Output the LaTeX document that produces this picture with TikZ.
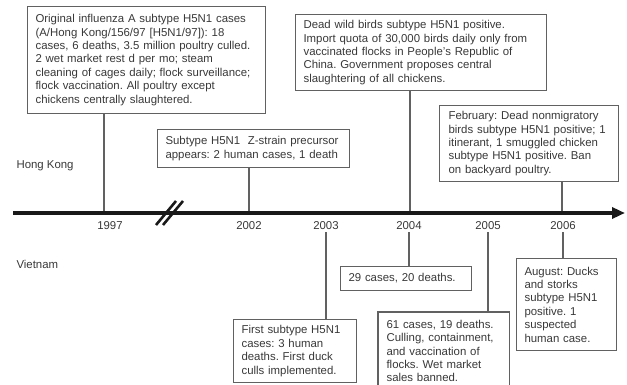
\documentclass[tikz,border=0pt]{standalone}
\usepackage{fontspec}
\setmainfont{Liberation Sans}
\usetikzlibrary{arrows.meta}
\frenchspacing

\tikzset{
	txt/.style={text=black!78, font=\fontsize{11.4}{13.4}\selectfont},
	event/.style={txt, draw=black!62, line width=1.1pt, anchor=north west, align=left, inner xsep=8pt, inner ysep=4pt},
	year/.style={txt, inner sep=2pt},
	stem/.style={draw=black!62, line width=1.1pt},
	axis/.style={draw=black!90, line width=3.6pt, -{Triangle[length=13pt,width=11pt]}},
	brkmark/.style={draw=black!90, line width=2.6pt},
}

\begin{document}
\begin{tikzpicture}[x=1pt, y=-1pt]
	\useasboundingbox (0,0) rectangle (627,385);
	\clip (0,0) rectangle (627,385);
	\node[txt, anchor=west] (hk) at (13,166) {Hong Kong};
	\node[txt, anchor=west] (vn) at (13,264) {Vietnam};
	% Hong Kong events
	\node[event, text width=222pt, minimum height=107pt] (b1997) at (27,6) {Original influenza A subtype H5N1 cases\\(A/Hong Kong/156/97 [H5N1/97]): 18\\cases, 6 deaths, 3.5 million poultry culled.\\2 wet market rest d per mo; steam\\cleaning of cages daily; flock surveillance;\\flock vaccination. All poultry except\\chickens centrally slaughtered.};
	\node[event, text width=176pt, minimum height=38pt] (b2002) at (157,129) {Subtype H5N1\ \ Z-strain precursor\\appears: 2 human cases, 1 death};
	\node[event, text width=235pt, minimum height=76pt] (b2004) at (295,14) {Dead wild birds subtype H5N1 positive.\\Import quota of 30,000 birds daily only from\\vaccinated flocks in People's Republic of\\China. Government proposes central\\slaughtering of all chickens.};
	\node[event, text width=161pt, minimum height=76pt, inner xsep=9pt] (b2006) at (439,105) {February: Dead nonmigratory\\birds subtype H5N1 positive; 1\\itinerant, 1 smuggled chicken\\subtype H5N1 positive. Ban\\on backyard poultry.};
	% Vietnam events
	\node[event, text width=107pt, minimum height=63pt] (v2003) at (233,319) {First subtype H5N1\\cases: 3 human\\deaths. First duck\\culls implemented.};
	\node[event, text width=115pt, minimum height=24pt] (v2004) at (340,266) {29 cases, 20 deaths.};
	\node[event, draw=none, text width=114pt, inner ysep=7.5pt] (v2005) at (378,312) {61 cases, 19 deaths.\\Culling, containment,\\and vaccination of\\flocks. Wet market\\sales banned.};
	\draw[stem] ([yshift=-12pt]v2005.south west) -- (v2005.north west) -- (v2005.north east) -- ([yshift=-12pt]v2005.south east);
	\node[event, text width=84pt, minimum height=92pt] (v2006) at (516,258) {August: Ducks\\and storks\\subtype H5N1\\positive. 1\\suspected\\human case.};
	% years
	\node[year] (y1997) at (110,226) {1997};
	\node[year] (y2002) at (249,226) {2002};
	\node[year] (y2003) at (326,226) {2003};
	\node[year] (y2004) at (409,226) {2004};
	\node[year] (y2005) at (488,226) {2005};
	\node[year] (y2006) at (563,226) {2006};
	\coordinate (k1997) at (104,213);
	\coordinate (k2002) at (249,213);
	\coordinate (k2004) at (410,213);
	\coordinate (k2006) at (562,213);
	\draw[stem] (b1997.south -| k1997) -- (k1997);
	\draw[stem] (b2002.south -| k2002) -- (k2002);
	\draw[stem] (b2004.south -| k2004) -- (k2004);
	\draw[stem] (b2006.south -| k2006) -- (k2006);
	\draw[stem] (y2003.south) -- (v2003.north -| y2003);
	\draw[stem] (y2004.south) -- (v2004.north -| y2004);
	\draw[stem] (y2005.south) -- (v2005.north -| y2005);
	\draw[stem] (y2006.south) -- (v2006.north -| y2006);
	% time axis
	\coordinate (tl0) at (13,213);
	\coordinate (tl1) at (625,213);
	\draw[axis] (tl0) -- (tl1);
	\coordinate (brk) at (170,213);
	\draw[brkmark] ([shift={(-14,12)}]brk) -- ([shift={(6,-12)}]brk);
	\draw[brkmark] ([shift={(-7,12)}]brk) -- ([shift={(13,-12)}]brk);
\end{tikzpicture}
\end{document}
